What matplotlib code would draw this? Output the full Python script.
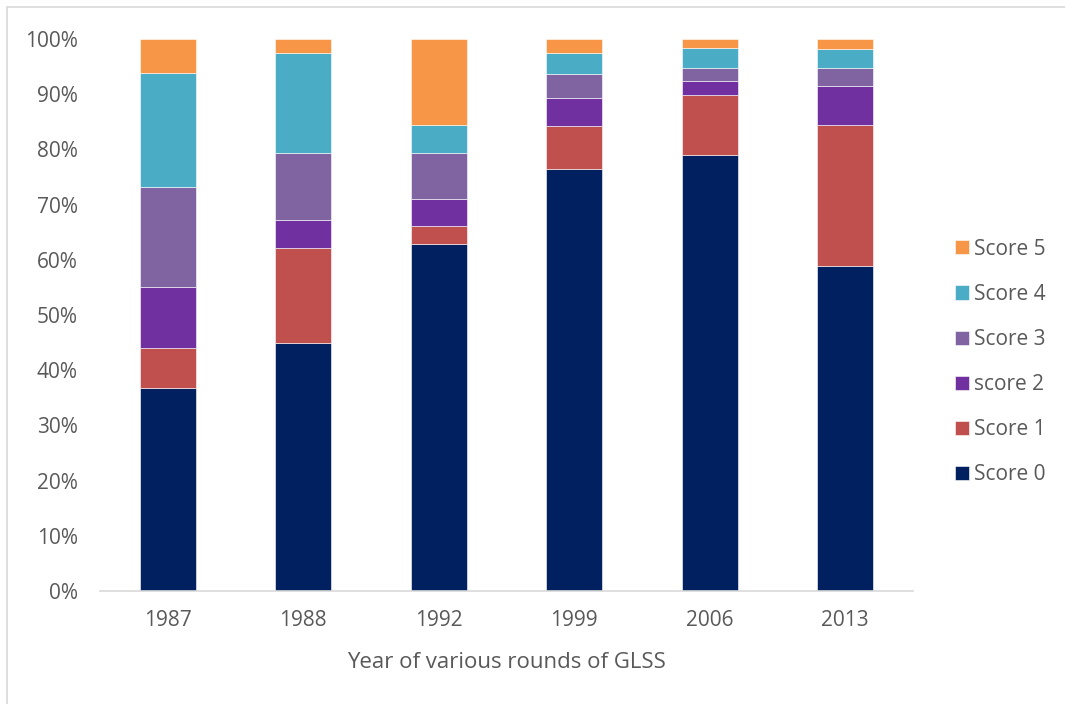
import numpy as np
import matplotlib.pyplot as plt
from matplotlib.patches import Rectangle
from matplotlib.ticker import PercentFormatter

# --- Data: share of households by score per GLSS round (%) ---
years = ["1987", "1988", "1992", "1999", "2006", "2013"]
score0 = [36.7, 44.9, 62.9, 76.4, 79.0, 58.9]
score1 = [7.3, 17.2, 3.2, 7.8, 10.8, 25.6]
score2 = [11.0, 5.2, 5.0, 5.1, 2.6, 7.0]
score3 = [18.2, 12.0, 8.3, 4.4, 2.4, 3.3]
score4 = [20.7, 18.1, 5.1, 3.7, 3.6, 3.3]
score5 = [6.1, 2.6, 15.5, 2.6, 1.6, 1.9]

labels = ["Score 0", "Score 1", "score 2", "Score 3", "Score 4", "Score 5"]
colors = ["#002060", "#C0504D", "#7030A0", "#8064A2", "#4BACC6", "#F79646"]

series = [score0, score1, score2, score3, score4, score5]
text_color = "#595959"

plt.rcParams["font.family"] = ["Open Sans", "DejaVu Sans"]

W, H = 1065, 704
fig = plt.figure(figsize=(W / 100, H / 100), dpi=100)

# light chart-area border
fig.patches.append(Rectangle((7 / W, -0.01), 1.05, 1 - 7 / H + 0.01, transform=fig.transFigure,
                             fill=False, edgecolor="#D9D9D9", linewidth=1.2))

ax = fig.add_axes([100 / W, (H - 591) / H, (913 - 100) / W, (591 - 39) / H])

x = np.arange(len(years))
bottom = np.zeros(len(years))
handles = []
for vals, lab, col in zip(series, labels, colors):
    vals = np.array(vals)
    b = ax.bar(x, vals, width=0.41, bottom=bottom, color=col, label=lab,
               edgecolor="white", linewidth=0.4)
    handles.append(b)
    bottom += vals

ax.set_xlim(-0.5, len(years) - 0.5)
ax.set_ylim(0, 100)
ax.set_yticks(np.arange(0, 101, 10))
ax.yaxis.set_major_formatter(PercentFormatter(decimals=0))
ax.set_xticks(x)
ax.set_xticklabels(years)

for side in ["top", "right", "left"]:
    ax.spines[side].set_visible(False)
ax.spines["bottom"].set_color("#D9D9D9")
ax.spines["bottom"].set_linewidth(1.2)

ax.tick_params(axis="both", length=0, labelsize=15, colors=text_color)
ax.tick_params(axis="y", pad=16)
ax.tick_params(axis="x", pad=14)

ax.set_xlabel("Year of various rounds of GLSS", fontsize=16, color=text_color, labelpad=15)

leg = fig.legend(handles[::-1], labels[::-1], loc="center left",
                 bbox_to_anchor=(955 / W, 1 - 362 / H), frameon=False,
                 fontsize=15, labelcolor=text_color, borderpad=0, borderaxespad=0,
                 handlelength=0.67, handleheight=0.67, handletextpad=0.25,
                 labelspacing=1.16)

fig.savefig("out.png", dpi=100)
